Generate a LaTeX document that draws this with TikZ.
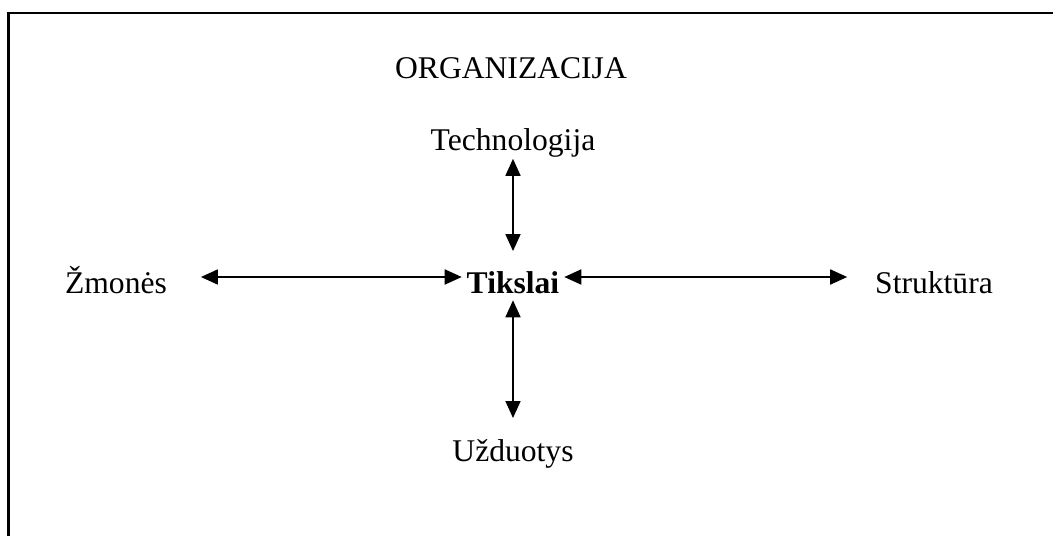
\documentclass[tikz,border=0pt]{standalone}
\usepackage{fontspec}
\setmainfont{Liberation Serif}
\usetikzlibrary{arrows.meta}
\begin{document}
\begin{tikzpicture}[x=1pt,y=-1pt,
  lbl/.style={inner sep=0pt,outer sep=0pt,anchor=base,
    font=\fontsize{31.6}{38}\selectfont},
  twoway/.style={line width=1.8pt,
    {Triangle[length=17pt,width=15pt]}-{Triangle[length=17pt,width=15pt]}},
  frame/.style={line width=2.6pt}]
\useasboundingbox (0,0) rectangle (1053,536);
% open frame: top and left edges
\draw[frame] (8.5,536) -- (8.5,13) -- (1053,13);
% labels
\node[lbl] (org) at (511,78) {ORGANIZACIJA};
\node[lbl] (tech) at (513,150) {Technologija};
\node[lbl] (zm) at (116,293) {Žmonės};
\node[lbl,font=\fontsize{31.6}{38}\selectfont\bfseries] (goal) at (513,293) {Tikslai};
\node[lbl] (str) at (934,293) {Struktūra};
\node[lbl] (task) at (513,461) {Užduotys};
% connectors
\draw[twoway] ([xshift=34pt,yshift=16pt]zm.base east) -- ([xshift=-5pt,yshift=16pt]goal.base west);
\draw[twoway] ([xshift=5pt,yshift=16pt]goal.base east) -- ([xshift=-28pt,yshift=16pt]str.base west);
\draw[twoway] ([yshift=-2pt]tech.south) -- ([yshift=20pt]goal.north);
\draw[twoway] ([yshift=-7pt]goal.south) -- ([yshift=21pt]task.north);
\end{tikzpicture}
\end{document}
